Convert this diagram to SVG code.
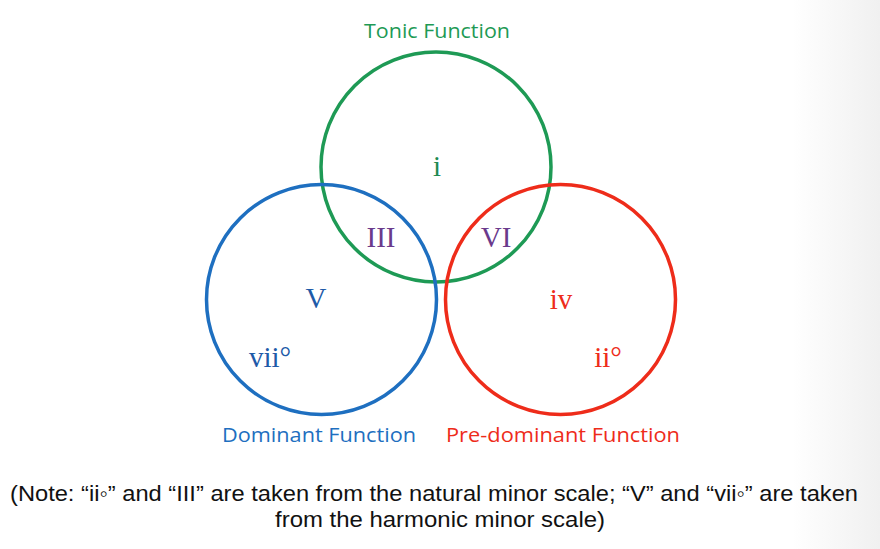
<svg xmlns="http://www.w3.org/2000/svg" width="880" height="549" viewBox="0 0 880 549">
<defs>
<style>
.c{fill:none;stroke-width:3.5}
.lab{font-family:"Open Sans","Noto Sans",sans-serif;font-size:20.5px;text-anchor:middle}
.rn{font-family:"Liberation Serif","DejaVu Serif",serif;font-size:29px;text-anchor:middle}
.note{font-family:"Liberation Sans",Arial,sans-serif;font-size:22px;text-anchor:middle;fill:#111}
</style>
<linearGradient id="bg" x1="0" x2="1" y1="0" y2="0">
<stop offset="0.9" stop-color="#ffffff"/>
<stop offset="1" stop-color="#f0f0f0"/>
</linearGradient>
</defs>
<rect width="880" height="549" fill="url(#bg)"/>
<g id="tonic">
<circle class="c" cx="436" cy="167" r="115" stroke="#1e9a55"/>
<text class="lab" x="437" y="38" fill="#1e9a55" textLength="146" lengthAdjust="spacingAndGlyphs">Tonic Function</text>
<text class="rn" x="437" y="176" fill="#1e8a50">i</text>
</g>
<g id="dominant">
<circle class="c" cx="321.5" cy="299.5" r="115" stroke="#1e6fc0"/>
<text class="lab" x="319" y="442" fill="#1e6fc0" textLength="194" lengthAdjust="spacingAndGlyphs">Dominant Function</text>
<text class="rn" x="316" y="308" fill="#1e5aa8">V</text>
<text class="rn" x="270" y="367" fill="#1e5aa8">vii°</text>
</g>
<g id="predominant">
<circle class="c" cx="560.5" cy="299.5" r="115" stroke="#ee2c1a"/>
<text class="lab" x="563" y="442" fill="#ee2c1a" textLength="234" lengthAdjust="spacingAndGlyphs">Pre-dominant Function</text>
<text class="rn" x="561" y="309" fill="#ee2c1a">iv</text>
<text class="rn" x="608" y="367" fill="#ee2c1a">ii°</text>
</g>
<g id="overlaps">
<text class="rn" x="381" y="247" fill="#6a3a8c">III</text>
<text class="rn" x="496" y="247" fill="#6a3a8c">VI</text>
</g>
<g id="connectors"></g>
<text class="note" x="434" y="501" textLength="848" lengthAdjust="spacingAndGlyphs">(Note: “ii◦” and “III” are taken from the natural minor scale; “V” and “vii◦” are taken</text>
<text class="note" x="440" y="527" textLength="330" lengthAdjust="spacingAndGlyphs">from the harmonic minor scale)</text>
</svg>
